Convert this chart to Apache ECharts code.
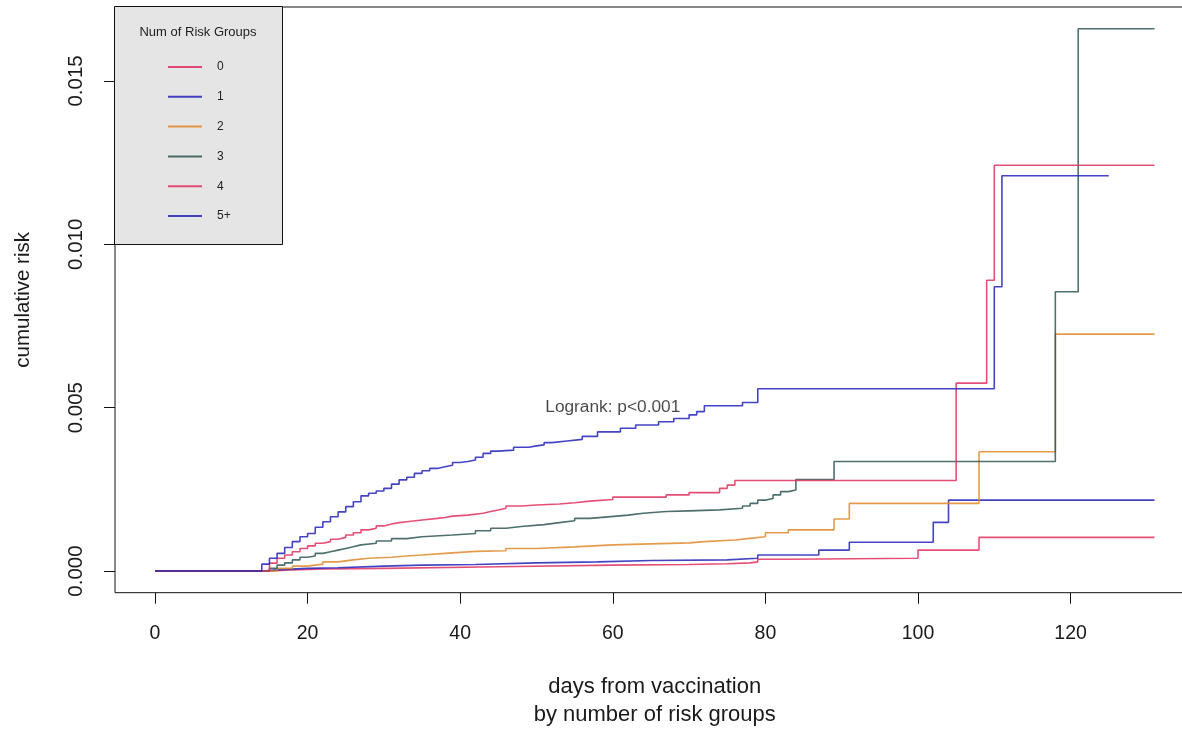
<!DOCTYPE html>
<html>
<head>
<meta charset="utf-8">
<script src="https://cdn.jsdelivr.net/npm/echarts@6/dist/echarts.min.js"></script>
<style>
html, body { margin: 0; padding: 0; background: #fff; }
#main { width: 1182px; height: 730px; }
</style>
</head>
<body>
<div id="main"></div>
<script>
// cumulative risk by number of risk groups, step curves [day, risk]
var groups = ['0', '1', '2', '3', '4', '5+'];
var colors = ['#E0305E', '#2323B8', '#E08A2A', '#2F5656', '#E0305E', '#2323B8'];

var risk0 = [[0,0],[15,0.00003],[18,0.00006],[22,0.00008],[30,0.00013],[45,0.00018],[60,0.0002],[70,0.00022],
  [75,0.00025],[78,0.00028],[79,0.00036],[83,0.00039],[100,0.00064],[108,0.00103],[131,0.00103]];

var risk1 = [[0,0],[14,0.00005],[17,0.00008],[20,0.0001],[24,0.00015],[30,0.00018],[35,0.0002],[42,0.00025],
  [50,0.00028],[58,0.00032],[65,0.00034],[75,0.00039],[79,0.00049],[87,0.00064],[91,0.00088],[102,0.00149],
  [104,0.00217],[131,0.00217]];

var risk2 = [[0,0],[16,0.00008],[18,0.00015],[20,0.00021],[22,0.00028],[24,0.00034],[26,0.00039],[28,0.00042],
  [31,0.00046],[33,0.00049],[35,0.00054],[38,0.00057],[40,0.0006],[42,0.00062],[46,0.00069],[50,0.00074],
  [55,0.0008],[60,0.00083],[65,0.00086],[70,0.0009],[72,0.00095],[76,0.001],[78,0.00105],[80,0.00117],
  [83,0.00126],[89,0.00159],[91,0.00207],[108,0.00365],[118,0.00725],[131,0.00725]];

var risk3 = [[0,0],[15,0.00008],[16,0.00018],[17,0.00025],[18,0.00034],[19,0.00042],[20,0.00046],[21,0.00054],
  [22,0.00059],[23,0.00064],[24,0.00069],[25,0.00074],[26,0.0008],[27,0.00085],[29,0.00092],[31,0.00099],
  [33,0.00105],[35,0.0011],[39,0.00115],[42,0.00123],[44,0.00131],[46,0.00136],[48,0.00142],[51,0.00148],
  [53,0.00154],[55,0.00161],[57,0.00165],[59,0.00171],[62,0.00177],[64,0.00182],[67,0.00184],[70,0.00187],
  [74,0.00192],[77,0.00199],[78,0.00207],[79,0.00217],[80,0.00222],[81,0.00233],[82,0.00243],[83,0.00248],
  [84,0.0028],[89,0.00335],[118,0.00855],[121,0.0166],[131,0.0166]];

var risk4 = [[0,0],[15,0.00024],[16,0.00039],[17,0.00049],[18,0.00059],[19,0.00069],[20,0.00077],[21,0.00085],
  [22,0.0009],[23,0.00097],[24,0.00103],[25,0.0011],[26,0.00117],[27,0.00126],[28,0.00131],[29,0.00138],
  [30,0.00144],[31,0.00148],[32,0.00151],[33,0.00156],[35,0.00161],[37,0.00164],[38,0.00168],[39,0.00171],
  [41,0.00177],[43,0.00182],[44,0.00187],[45,0.00192],[46,0.00199],[48,0.00202],[50,0.00205],[53,0.00209],
  [55,0.00214],[57,0.00219],[60,0.00226],[67,0.00233],[70,0.0024],[74,0.00253],[75,0.00263],[76,0.00277],
  [105,0.00575],[109,0.0089],[110,0.01242],[131,0.01242]];

var risk5 = [[0,0],[14,0.00021],[15,0.00039],[16,0.00054],[17,0.00072],[18,0.0009],[19,0.00105],[20,0.00115],
  [21,0.00134],[22,0.00151],[23,0.00166],[24,0.00181],[25,0.00197],[26,0.00212],[27,0.0023],[28,0.00238],
  [29,0.00245],[30,0.00253],[31,0.00266],[32,0.00279],[33,0.00287],[34,0.00299],[35,0.00307],[36,0.00314],
  [37,0.00319],[38,0.00324],[39,0.00332],[40,0.00335],[41,0.0034],[42,0.00348],[43,0.0036],[44,0.00367],
  [45,0.0037],[47,0.00379],[49,0.00383],[50,0.00386],[51,0.00393],[52,0.00398],[54,0.00403],[56,0.00412],
  [58,0.00426],[61,0.00437],[63,0.00447],[66,0.00457],[68,0.00467],[70,0.00478],[71,0.00488],[72,0.00506],
  [77,0.00516],[79,0.00558],[110,0.0087],[111,0.0121],[125,0.0121]];

var riskData = [risk0, risk1, risk2, risk3, risk4, risk5];
var xTicks = [0, 20, 40, 60, 80, 100, 120];
var yTicks = [0, 0.005, 0.010, 0.015];
var pvalText = 'Logrank: p<0.001';
var pvalAt = [60, 0.005];

var FONT = 'Liberation Sans, Arial, sans-serif';

var series = [];
for (var i = 0; i < groups.length; i++) {
    series.push({
        name: groups[i],
        type: 'line',
        step: 'end',
        symbol: 'none',
        data: riskData[i],
        color: colors[i],
        lineStyle: { width: 1.6, color: colors[i], opacity: 0.85 },
        silent: true,
        z: 2 + i
    });
}
series.push({
    type: 'scatter',
    data: [pvalAt],
    symbolSize: 1,
    itemStyle: { color: 'transparent' },
    label: {
        show: true, position: 'inside', formatter: pvalText,
        fontSize: 17.3, color: '#1a1a1a', fontFamily: FONT
    },
    silent: true,
    z: 20
});

var option = {
    animation: false,
    backgroundColor: '#fff',
    grid: {
        left: 115, top: 7, width: 1079.5, height: 585.7,
        outerBoundsMode: 'none', containLabel: false,
        show: true, borderColor: '#111', borderWidth: 1, backgroundColor: 'transparent'
    },
    xAxis: {
        type: 'value', min: -5.24, max: 136.24,
        splitLine: { show: false },
        axisLine: { show: false, onZero: false },
        axisTick: { show: true, inside: false, length: 11, customValues: xTicks, lineStyle: { color: '#111' } },
        axisLabel: { customValues: xTicks, margin: 31, fontSize: 19.5, color: '#1a1a1a', fontFamily: FONT },
        name: 'days from vaccination\nby number of risk groups',
        nameLocation: 'middle', nameGap: 80,
        nameTextStyle: { fontSize: 22, lineHeight: 28, color: '#1a1a1a', fontFamily: FONT }
    },
    yAxis: {
        type: 'value', min: -0.000664, max: 0.017264,
        splitLine: { show: false },
        axisLine: { show: false, onZero: false },
        axisTick: { show: true, inside: false, length: 11, customValues: yTicks, lineStyle: { color: '#111' } },
        axisLabel: {
            customValues: yTicks, rotate: 90, margin: 28, fontSize: 20.5, color: '#1a1a1a', fontFamily: FONT,
            formatter: function (v) { return v.toFixed(3); }
        },
        name: 'cumulative risk', nameLocation: 'middle', nameRotate: 90, nameGap: 81,
        nameTextStyle: { fontSize: 20.5, color: '#1a1a1a', fontFamily: FONT }
    },
    legend: {
        data: groups,
        orient: 'vertical',
        left: 167, top: 61,
        padding: 0,
        itemWidth: 34, itemHeight: 12, itemGap: 17.8,
        selectedMode: false,
        itemStyle: { opacity: 0 },
        textStyle: { fontSize: 12, color: '#222', fontFamily: FONT, padding: [0, 0, 0, 10] },
        z: 30
    },
    graphic: [
        {
            type: 'rect', z: 25,
            shape: { x: 114.5, y: 6.5, width: 168, height: 238 },
            style: { fill: '#e5e5e5', stroke: '#111', lineWidth: 1 }
        },
        {
            type: 'text', z: 26, x: 198, y: 32,
            style: {
                text: 'Num of Risk Groups', fontSize: 13, fill: '#222', fontFamily: FONT,
                align: 'center', verticalAlign: 'middle'
            }
        }
    ],
    series: series
};

var myChart = echarts.init(document.getElementById('main'));
myChart.setOption(option);
</script>
</body>
</html>
